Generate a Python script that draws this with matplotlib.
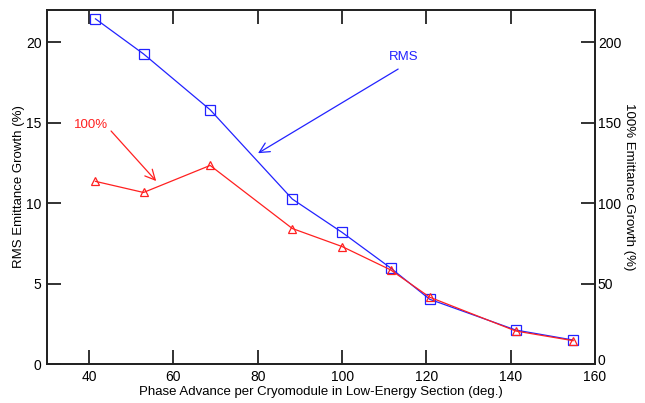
import matplotlib
matplotlib.use('Agg')
import matplotlib.pyplot as plt
from matplotlib.transforms import ScaledTranslation

plt.rcParams['font.family'] = ['Liberation Sans', 'DejaVu Sans']

# phase advance per cryomodule (deg.)
phase = [41.5, 52.9, 68.7, 88.2, 100.0, 111.5, 120.8, 141.2, 154.8]
# RMS emittance growth (%), left axis
rms_growth = [21.45, 19.27, 15.8, 10.25, 8.18, 5.97, 4.02, 2.11, 1.49]
# 100% emittance growth (%), right axis
full_growth = [113.5, 106.6, 123.4, 84.2, 73.0, 58.5, 41.5, 20.5, 14.5]

xticks = [40, 60, 80, 100, 120, 140, 160]
yticks_left = [0, 5, 10, 15, 20]
yticks_right = [0, 50, 100, 150, 200]

blue = '#2222ff'
red = '#ff2020'

fig = plt.figure(figsize=(6.45, 4.03), dpi=100)
ax = fig.add_axes([47 / 645, 1 - 364 / 403, 548 / 645, 354 / 403])
ax2 = ax.twinx()

ax.plot(phase, rms_growth, color=blue, lw=0.9, marker='s', ms=6.5,
        mfc='none', mec=blue, mew=0.9, zorder=3)
ax2.plot(phase, full_growth, color=red, lw=0.9, marker='^', ms=5.5,
         mfc='none', mec=red, mew=0.9, zorder=3)

ax.set_xlim(30, 160)
ax.set_ylim(0, 22)
ax2.set_ylim(0, 220)
ax.set_xticks(xticks)
ax.set_yticks(yticks_left)
ax2.set_yticks(yticks_right)

for a in (ax, ax2):
    for s in a.spines.values():
        s.set_linewidth(1.3)
        s.set_color('#222222')

ax.tick_params(axis='x', direction='in', length=10, width=1.3, top=True,
               labelsize=10, pad=4, colors='#222222', labelcolor='black')
ax.tick_params(axis='y', direction='in', length=10, width=1.3, right=False,
               labelsize=10, pad=4, colors='#222222', labelcolor='black')
ax2.tick_params(axis='y', direction='in', length=10, width=1.3,
                labelsize=10, pad=2, colors='#222222', labelcolor='black')

# nudge the right-hand "0" up a little so it clears the "160" label
fig.canvas.draw()
for lab in ax2.get_yticklabels():
    if lab.get_text() == '0':
        lab.set_transform(lab.get_transform() +
                          ScaledTranslation(0, 3 / 72, fig.dpi_scale_trans))

ax.set_xlabel('Phase Advance per Cryomodule in Low-Energy Section (deg.)',
              fontsize=9.5, labelpad=1.5)
ax.set_ylabel('RMS Emittance Growth (%)', fontsize=9.5)
ax.yaxis.set_label_coords(-0.04, 0.5)
ax2.set_ylabel('100% Emittance Growth (%)', fontsize=9.5, rotation=-90,
               va='center')
ax2.yaxis.set_label_coords(1.062, 0.5)

# annotations
ax.text(114.7, 19.08, 'RMS', color=blue, fontsize=9.5, ha='center', va='center')
ax.annotate('', xy=(80.06, 13.1), xytext=(113.3, 18.33),
            arrowprops=dict(arrowstyle='->', color=blue, lw=0.9,
                            shrinkA=0, shrinkB=0, mutation_scale=18))
ax.text(40.4, 14.85, '100%', color=red, fontsize=9.5, ha='center', va='center')
ax.annotate('', xy=(55.9, 11.37), xytext=(45.2, 14.48),
            arrowprops=dict(arrowstyle='->', color=red, lw=0.9,
                            shrinkA=0, shrinkB=0, mutation_scale=18))

fig.savefig('out.png', dpi=100)
